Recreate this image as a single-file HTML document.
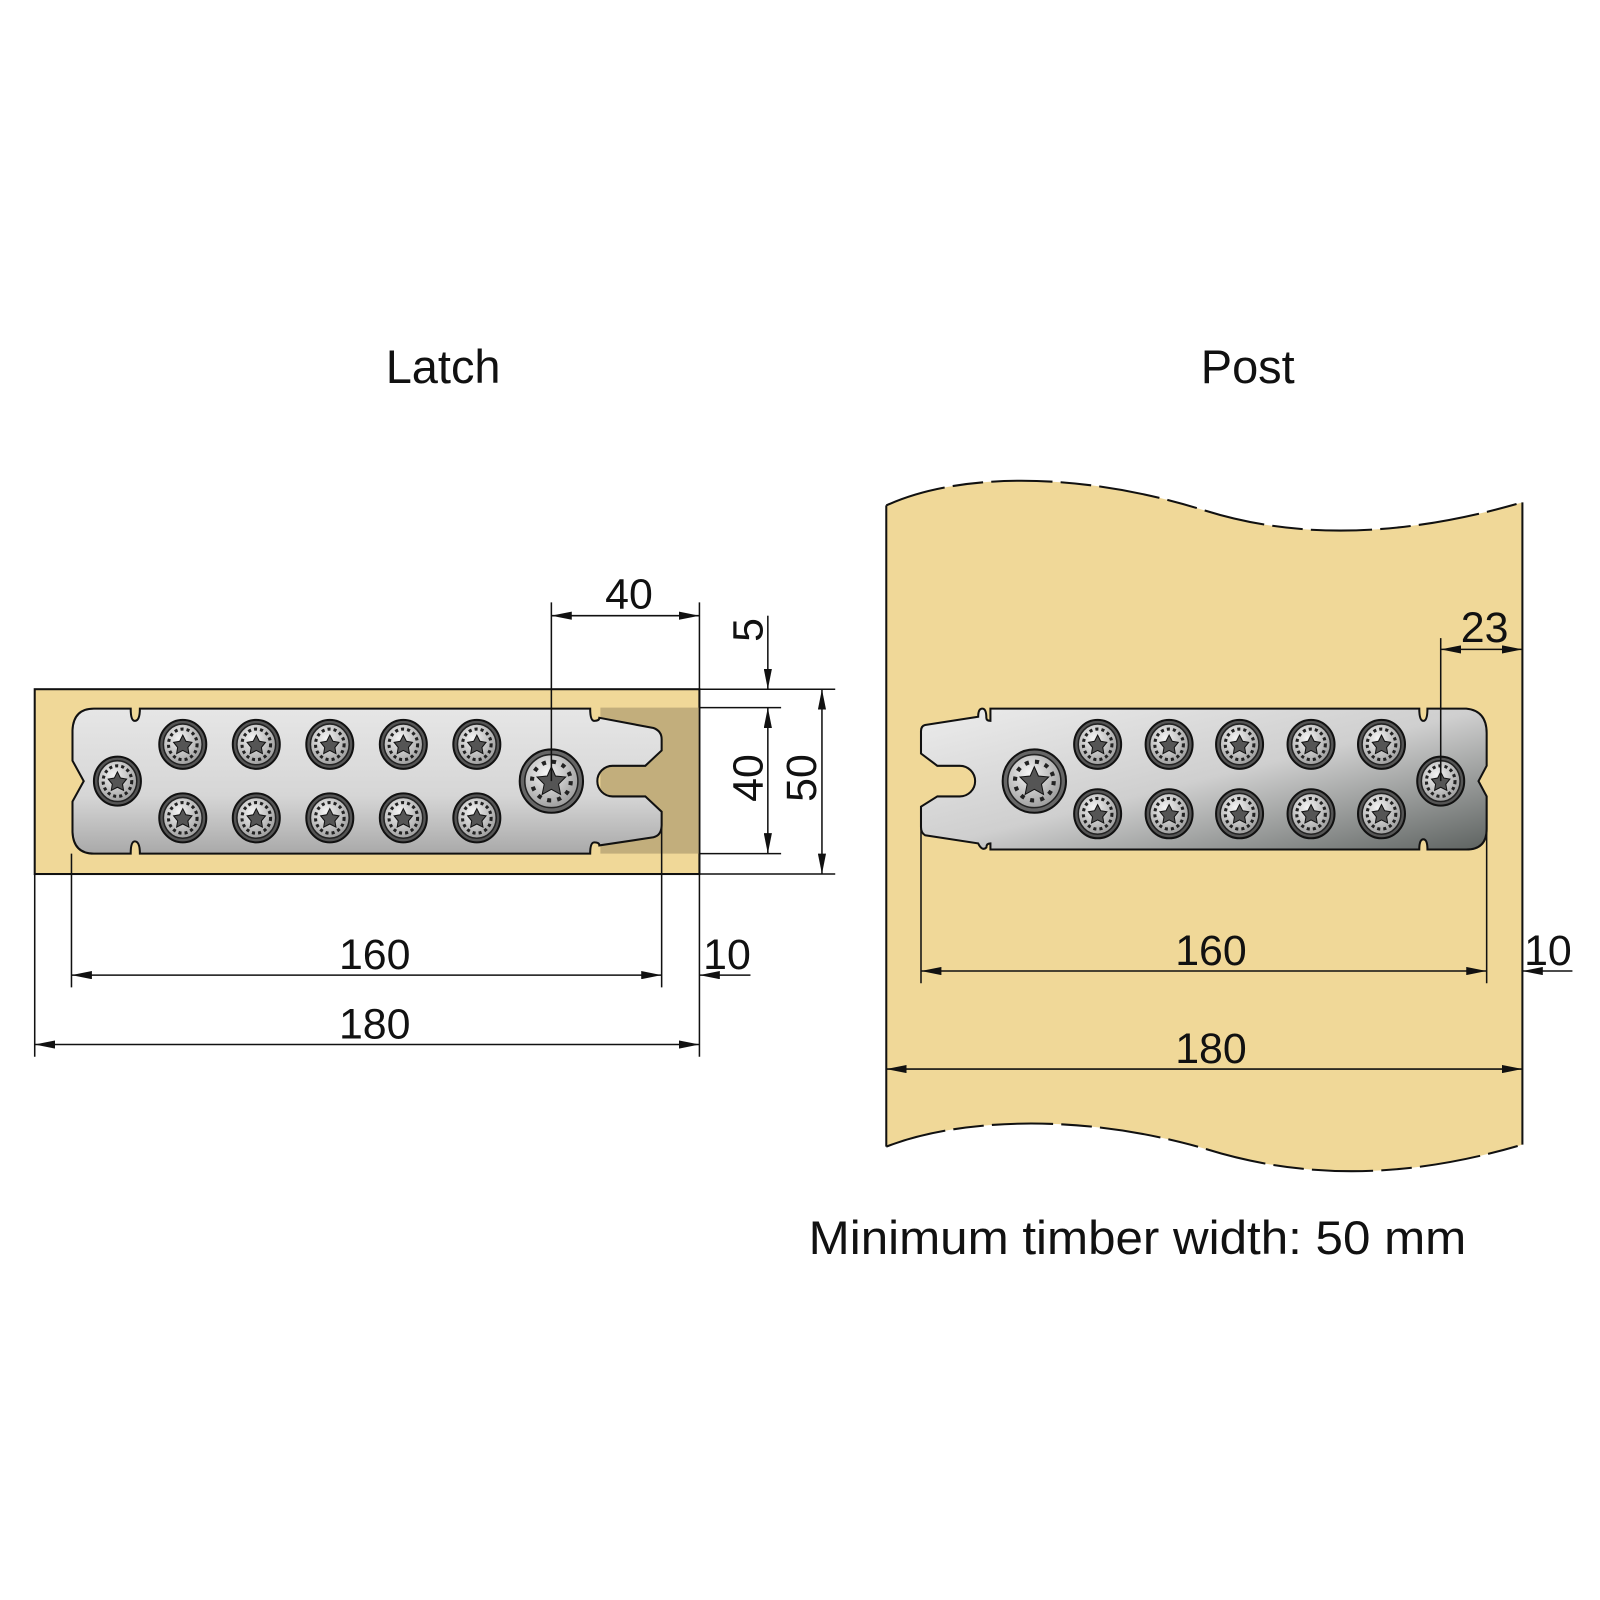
<!DOCTYPE html>
<html><head><meta charset="utf-8">
<style>html,body{margin:0;padding:0;background:#fff}svg{display:block}
text{font-family:"Liberation Sans",sans-serif;fill:#111}</style></head>
<body>
<svg width="1600" height="1600" viewBox="0 0 1567 1567" xmlns="http://www.w3.org/2000/svg">
<defs>
<linearGradient id="pl" x1="0" y1="0" x2="0" y2="1">
<stop offset="0" stop-color="#e6e6e6"/><stop offset="0.6" stop-color="#d6d6d6"/><stop offset="1" stop-color="#a9a9a9"/></linearGradient>
<linearGradient id="pl2" x1="0" y1="0" x2="1" y2="1">
<stop offset="0" stop-color="#ececec"/><stop offset="0.5" stop-color="#cfcfcf"/><stop offset="1" stop-color="#5e6361"/></linearGradient>
<radialGradient id="sc" cx="0.4" cy="0.35" r="0.7"><stop offset="0" stop-color="#f4f4f4"/><stop offset="1" stop-color="#9a9a9a"/></radialGradient>
<marker id="a" viewBox="0 0 20 8" refX="20" refY="4" markerWidth="20" markerHeight="8" orient="auto-start-reverse" markerUnits="userSpaceOnUse"><path d="M0,0 L20,4 L0,8z" fill="#111"/></marker>
<g id="s">
<ellipse rx="23" ry="24" fill="#555" stroke="#111" stroke-width="2"/>
<ellipse rx="19" ry="20" fill="url(#sc)" stroke="#222" stroke-width="1.5"/>
<ellipse rx="14" ry="15" fill="none" stroke="#222" stroke-width="3" stroke-dasharray="3 3"/>
<path d="M0,-9 L3,-3 L9,-2 L5,3 L6,9 L0,6 L-6,9 L-5,3 L-9,-2 L-3,-3z" fill="#555" stroke="#111" stroke-width="1"/>
</g>
<g id="b">
<circle r="31" fill="#666" stroke="#111" stroke-width="2"/>
<circle r="26" fill="url(#sc)" stroke="#222" stroke-width="1.5"/>
<path d="M0,-14 L4,-5 L14,-4 L7,3 L9,13 L0,8 L-9,13 L-7,3 L-14,-4 L-4,-5z" fill="#555" stroke="#111"/>
<circle r="19" fill="none" stroke="#222" stroke-width="4" stroke-dasharray="4 6"/>
</g>
</defs>

<text x="434" y="375" font-size="46" text-anchor="middle">Latch</text>
<text x="1222" y="375" font-size="46" text-anchor="middle">Post</text>

<!-- LATCH -->
<rect x="34" y="675" width="651" height="181" fill="#f0d898" stroke="#111" stroke-width="2"/>
<rect x="588" y="693" width="97" height="143" fill="#c2ae7c"/>
<line x1="34" y1="856" x2="685" y2="856" stroke="#111" stroke-width="2"/>
<path d="M92,694 L128,694 Q128,706 132,706 Q137,706 137,694 L578,694 Q578,706 582,706 Q587,706 587,703 L640,713 Q648,716 648,724 L648,735 L632,750 L600,750 A15,15 0 0 0 600,780 L632,780 L648,795 L648,808 Q648,818 640,820 L587,828 Q587,825 582,825 Q578,825 578,836 L137,836 Q137,824 132,824 Q128,824 128,836 L92,836 Q72,836 71,815 L71,785 L82,765 L71,745 L71,715 Q72,694 92,694Z" fill="url(#pl)" stroke="#111" stroke-width="2"/>
<g>
<use href="#s" x="179" y="729"/><use href="#s" x="251" y="729"/><use href="#s" x="323" y="729"/><use href="#s" x="395" y="729"/><use href="#s" x="467" y="729"/>
<use href="#s" x="179" y="801"/><use href="#s" x="251" y="801"/><use href="#s" x="323" y="801"/><use href="#s" x="395" y="801"/><use href="#s" x="467" y="801"/>
<use href="#s" x="115" y="765"/>
<use href="#b" x="540" y="765"/>
</g>
<g stroke="#111" stroke-width="1.5" fill="none">
<line x1="540" y1="590" x2="540" y2="765"/>
<line x1="685" y1="590" x2="685" y2="1035"/>
<line x1="540" y1="603" x2="685" y2="603" marker-start="url(#a)" marker-end="url(#a)"/>
<line x1="685" y1="693" x2="765" y2="693"/>
<line x1="685" y1="836" x2="765" y2="836"/>
<line x1="685" y1="675" x2="818" y2="675"/>
<line x1="685" y1="856" x2="818" y2="856"/>
<line x1="752" y1="603" x2="752" y2="675" marker-end="url(#a)"/>
<line x1="752" y1="693" x2="752" y2="836" marker-start="url(#a)" marker-end="url(#a)"/>
<line x1="805" y1="675" x2="805" y2="856" marker-start="url(#a)" marker-end="url(#a)"/>
<line x1="70" y1="836" x2="70" y2="967"/>
<line x1="648" y1="810" x2="648" y2="967"/>
<line x1="34" y1="856" x2="34" y2="1035"/>
<line x1="70" y1="955" x2="648" y2="955" marker-start="url(#a)" marker-end="url(#a)"/>
<line x1="735" y1="955" x2="685" y2="955" marker-end="url(#a)"/>
<line x1="34" y1="1023" x2="685" y2="1023" marker-start="url(#a)" marker-end="url(#a)"/>
</g>
<text x="616" y="596" font-size="42" text-anchor="middle">40</text>
<text x="367" y="949" font-size="42" text-anchor="middle">160</text>
<text x="712" y="949" font-size="42" text-anchor="middle">10</text>
<text x="367" y="1017" font-size="42" text-anchor="middle">180</text>
<text transform="translate(747,617) rotate(-90)" font-size="42" text-anchor="middle">5</text>
<text transform="translate(747,762) rotate(-90)" font-size="42" text-anchor="middle">40</text>
<text transform="translate(799,762) rotate(-90)" font-size="42" text-anchor="middle">50</text>

<!-- POST -->
<path d="M868,495 C940,462 1060,462 1180,500 C1260,525 1360,530 1491,492 L1491,1121 C1360,1160 1260,1150 1180,1125 C1060,1090 940,1095 868,1123Z" fill="#f0d898"/>
<g stroke="#111" stroke-width="2" fill="none">
<line x1="868" y1="495" x2="868" y2="1123"/>
<line x1="1491" y1="492" x2="1491" y2="1121"/>
<path d="M868,495 C940,462 1060,462 1180,500 C1260,525 1360,530 1491,492" stroke-dasharray="60 8 30 8"/>
<path d="M868,1123 C940,1095 1060,1090 1180,1125 C1260,1150 1360,1160 1491,1121" stroke-dasharray="60 8 30 8"/>
</g>
<path d="M906,710 L958,702 Q958,694 962,694 Q966,694 966,703 Q966,706 970,706 L970,694 L1390,694 Q1390,706 1394,706 Q1398,706 1398,694 L1436,694 Q1456,696 1456,718 L1456,750 L1448,765 L1456,780 L1456,812 Q1456,832 1436,832 L1398,832 Q1398,822 1394,822 Q1390,822 1390,832 L970,832 L970,826 Q966,826 966,830 Q962,834 958,826 L906,818 Q902,816 902,810 L902,790 L918,780 L940,780 A15,15 0 0 0 940,750 L918,750 L902,738 L902,716 Q902,711 906,710Z" fill="url(#pl2)" stroke="#111" stroke-width="2"/>
<g>
<use href="#s" x="1075" y="729"/><use href="#s" x="1145" y="729"/><use href="#s" x="1214" y="729"/><use href="#s" x="1284" y="729"/><use href="#s" x="1353" y="729"/>
<use href="#s" x="1075" y="797"/><use href="#s" x="1145" y="797"/><use href="#s" x="1214" y="797"/><use href="#s" x="1284" y="797"/><use href="#s" x="1353" y="797"/>
<use href="#b" x="1013" y="765"/>
<use href="#s" x="1411" y="765"/>
</g>
<g stroke="#111" stroke-width="1.5" fill="none">
<line x1="1411" y1="625" x2="1411" y2="765"/>
<line x1="1411" y1="636" x2="1491" y2="636" marker-start="url(#a)" marker-end="url(#a)"/>
<line x1="902" y1="790" x2="902" y2="963"/>
<line x1="1456" y1="780" x2="1456" y2="963"/>
<line x1="902" y1="951" x2="1456" y2="951" marker-start="url(#a)" marker-end="url(#a)"/>
<line x1="1540" y1="951" x2="1491" y2="951" marker-end="url(#a)"/>
<line x1="868" y1="1047" x2="1491" y2="1047" marker-start="url(#a)" marker-end="url(#a)"/>
</g>
<text x="1454" y="629" font-size="42" text-anchor="middle">23</text>
<text x="1186" y="945" font-size="42" text-anchor="middle">160</text>
<text x="1516" y="945" font-size="42" text-anchor="middle">10</text>
<text x="1186" y="1041" font-size="42" text-anchor="middle">180</text>

<text x="1114" y="1228" font-size="46" text-anchor="middle" textLength="644" lengthAdjust="spacingAndGlyphs">Minimum timber width: 50 mm</text>
</svg>
</body></html>
